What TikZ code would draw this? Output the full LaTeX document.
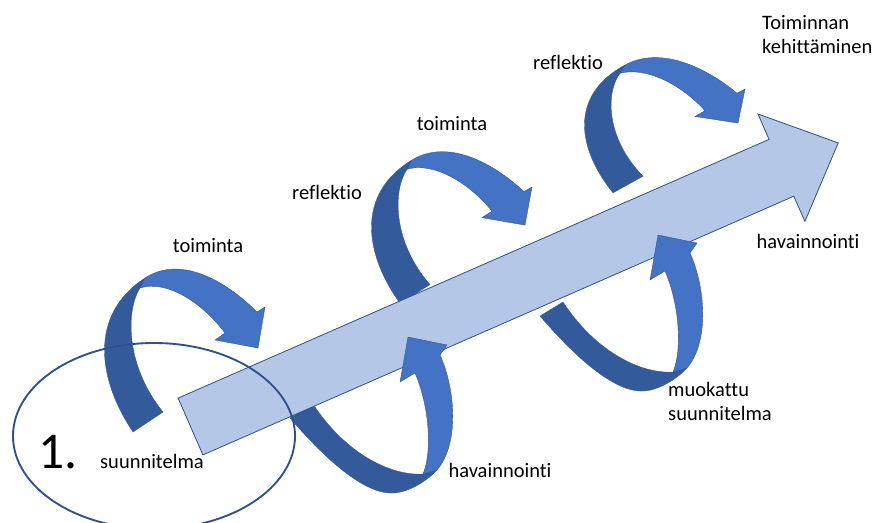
\documentclass[tikz,border=0pt]{standalone}
\usepackage{fontspec}
\setmainfont{Carlito}[Ligatures={NoCommon}]
\usetikzlibrary{calc}

\definecolor{bandlight}{HTML}{4472C4}
\definecolor{banddark}{HTML}{335A9A}
\definecolor{shaftfill}{HTML}{B4C7E7}
\definecolor{edgeblue}{HTML}{2F528F}

\tikzset{
    lbl/.style={inner sep=0pt, font=\fontsize{17.5}{20.5}\selectfont},
    darkband/.style={fill=banddark, draw=banddark, line width=0.3pt},
    lightband/.style={fill=bandlight, draw=edgeblue, line width=0.3pt},
    % turning arrow above the shaft (dark rising part, light part with head)
    upturn dark/.pic={
        \draw[darkband] (-12,154) .. controls (-47,102) and (-57,37) .. (0,0) -- (-5,10)
            .. controls (-19,32) and (-20,87) .. (18,134) -- cycle;
    },
    upturn light/.pic={
        \draw[lightband] (0,0) .. controls (35,-23) and (80,2) .. (112,34) -- (120,29) -- (113,70)
            -- (70,62) -- (80,55) .. controls (55,22) and (20,2) .. (-5,10) -- cycle;
    },
    % turning arrow below the shaft
    downturn dark/.pic={
        \draw[darkband] (0,0) .. controls (30,35) and (70,74) .. (100,75)
            .. controls (115,76) and (135,65) .. (147,52) -- (133,56)
            .. controls (100,58) and (55,35) .. (23,-14) -- cycle;
    },
    downturn light/.pic={
        \draw[lightband] (147,52) .. controls (170,25) and (165,-30) .. (150,-63) -- (157,-73)
            -- (118,-81) -- (110,-36) -- (125,-45) .. controls (140,-10) and (142,35) .. (133,56) -- cycle;
    },
}

\begin{document}
\begin{tikzpicture}[x=0.03cm, y=-0.03cm]
    \useasboundingbox (0,0) rectangle (877,522);

    % rising parts first, they pass behind the shaft
    \foreach \px/\py/\sy in {145/278/1, 412/160/0.93, 625/65/0.83} {
        \pic[yscale=\sy] at (\px,\py) {upturn dark};
    }
    \foreach \px/\py in {290/418, 540/316} {
        \pic at (\px,\py) {downturn dark};
    }

    % big arrow
    \coordinate (tailU) at (178.1,398.1); \coordinate (tailL) at (202.9,454.9);
    \coordinate (neckU) at (769,139.4); \coordinate (neckL) at (793.8,196.2);
    \coordinate (barbU) at (758,114); \coordinate (barbL) at (804.9,221.4);
    \coordinate (tip) at (838.2,142.9);
    \draw[fill=shaftfill, draw=edgeblue, line width=0.7pt]
        (tailU) -- (neckU) -- (barbU) -- (tip) -- (barbL) -- (neckL) -- (tailL) -- cycle;

    \foreach \px/\py/\sy in {145/278/1, 412/160/0.93, 625/65/0.83} {
        \pic[yscale=\sy] at (\px,\py) {upturn light};
    }
    \foreach \px/\py in {290/418, 540/316} {
        \pic at (\px,\py) {downturn light};
    }

    \draw[edgeblue, line width=1.6pt] (154,436) ellipse [x radius=141, y radius=93];

    \node[lbl] (toim1) at (208,246) {toiminta};
    \node[lbl] (toim2) at (452,124) {toiminta};
    \node[lbl] (refl1) at (327,192) {reflektio};
    \node[lbl] (refl2) at (568,62) {reflektio};
    \node[lbl, align=left, anchor=west] (goal) at (762,35) {Toiminnan\\kehittäminen};
    \node[lbl] (hav1) at (500,470) {havainnointi};
    \node[lbl] (hav2) at (808,241) {havainnointi};
    \node[lbl, align=left, anchor=west] (plan2) at (668,401) {muokattu\\suunnitelma};
    \node[lbl] (plan1) at (152,461) {suunnitelma};
    \node[inner sep=0pt, font=\fontsize{44}{48}\selectfont] (step1) at (58,452) {1.};
\end{tikzpicture}
\end{document}
